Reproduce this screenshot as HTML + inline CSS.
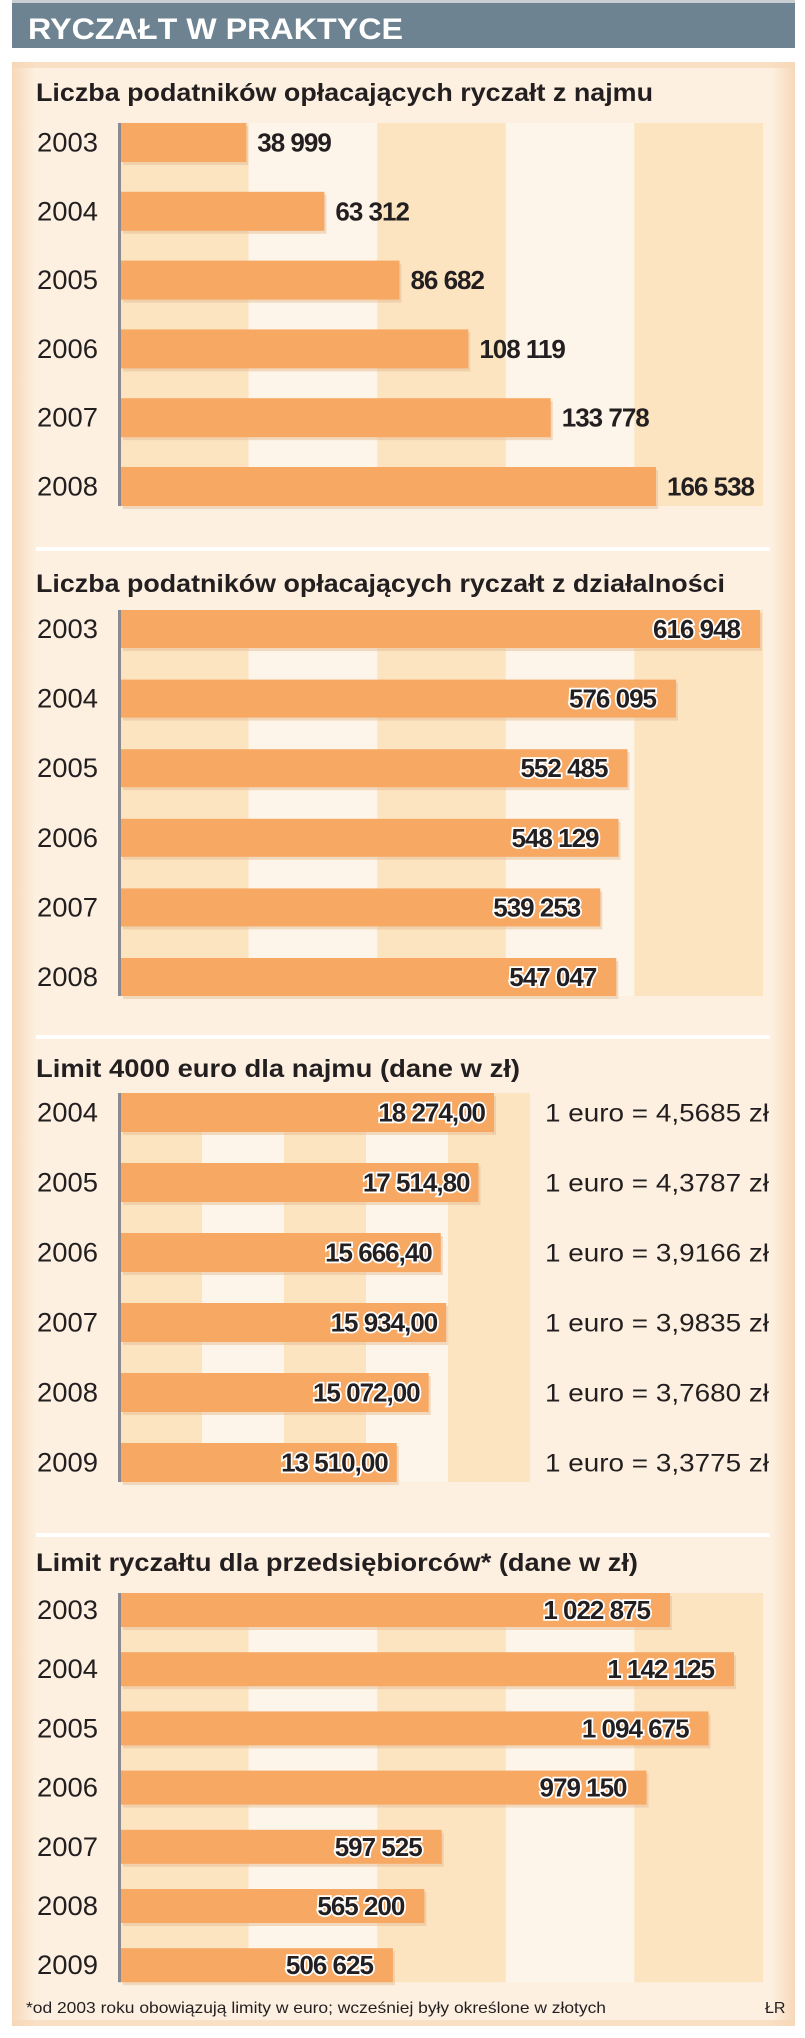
<!DOCTYPE html>
<html><head><meta charset="utf-8">
<style>
html,body{margin:0;padding:0;background:#fff;}
svg{display:block;}
text{font-family:"Liberation Sans Narrow","Liberation Sans",sans-serif;}
</style></head>
<body>
<svg id="chart" width="805" height="2038" viewBox="0 0 805 2038" xmlns="http://www.w3.org/2000/svg">
  <defs>
    <linearGradient id="panelGrad" x1="0" y1="0" x2="1" y2="0">
      <stop offset="0" stop-color="#f7d7b8"/><stop offset="0.03" stop-color="#fdf0e0"/>
      <stop offset="0.97" stop-color="#fdf0e0"/><stop offset="1" stop-color="#f7d7b8"/>
    </linearGradient>
  </defs>
  <rect x="12" y="0" width="783" height="4" fill="#c9ced2"/>
  <rect x="12" y="3" width="783" height="45" fill="#6e8391"/>
  <text x="28" y="39" font-size="30" font-weight="bold" fill="#fff" textLength="375" lengthAdjust="spacingAndGlyphs">RYCZAŁT W PRAKTYCE</text>
  <rect x="12" y="62" width="783" height="1964" fill="url(#panelGrad)"/>
  <rect x="12" y="62" width="783" height="6" fill="#f7d7b8" opacity="0.7"/>
  <rect x="12" y="2020" width="783" height="6" fill="#f7d7b8" opacity="0.7"/>
  <g id="root"></g>
</svg>
<script>
// ---- Chart 1: najem taxpayers ----
const c1Years = ["2003","2004","2005","2006","2007","2008"];
const c1Values = [38999, 63312, 86682, 108119, 133778, 166538];
const c1Labels = ["38 999","63 312","86 682","108 119","133 778","166 538"];
// ---- Chart 2: działalność taxpayers ----
const c2Years = ["2003","2004","2005","2006","2007","2008"];
const c2Values = [616948, 576095, 552485, 548129, 539253, 547047];
const c2Labels = ["616 948","576 095","552 485","548 129","539 253","547 047"];
// ---- Chart 3: limit 4000 euro ----
const c3Years = ["2004","2005","2006","2007","2008","2009"];
const c3Values = [18274.00, 17514.80, 15666.40, 15934.00, 15072.00, 13510.00];
const c3Labels = ["18 274,00","17 514,80","15 666,40","15 934,00","15 072,00","13 510,00"];
const c3Rates = ["1 euro = 4,5685 zł","1 euro = 4,3787 zł","1 euro = 3,9166 zł","1 euro = 3,9835 zł","1 euro = 3,7680 zł","1 euro = 3,3775 zł"];
// ---- Chart 4: limit dla przedsiębiorców ----
const c4Years = ["2003","2004","2005","2006","2007","2008","2009"];
const c4Values = [1022875, 1142125, 1094675, 979150, 597525, 565200, 506625];
const c4Labels = ["1 022 875","1 142 125","1 094 675","979 150","597 525","565 200","506 625"];

const NS = "http://www.w3.org/2000/svg";
const root = document.getElementById("root");
function mk(tag, attrs, parent){
  const e = document.createElementNS(NS, tag);
  for (const k in attrs) e.setAttribute(k, attrs[k]);
  (parent||root).appendChild(e);
  return e;
}
const AX = 121;
function linScale(dmin, dmax, rmin, rmax){ return v => rmin + (v-dmin)/(dmax-dmin)*(rmax-rmin); }

function drawChart(cfg){
  const g = mk("g", {});
  
  
  const t = mk("text", {x:36, y:cfg.titleY, "font-size":25, "font-weight":"bold", fill:"#231f20", textLength:cfg.titleW, lengthAdjust:"spacingAndGlyphs"}, g);
  t.textContent = cfg.title;
  
  
  const top = cfg.y0, bottom = cfg.y0 + (cfg.years.length-1)*cfg.step + cfg.h;
  // stripes
  for (let i=0;i<cfg.stripeN;i++){
    const s = mk("rect", {x:AX-1+i*cfg.stripeW, y:top, width:cfg.stripeW, height:bottom-top, fill: i%2===0 ? "#fce4c1" : "#fdf5ea"}, g);
    
    
  }
  const xs = cfg.scale;
  cfg.years.forEach((yr,i)=>{
    const y = cfg.y0 + i*cfg.step;
    const xe = xs(cfg.values[i]);
    const sh = mk("rect", {x:AX+2, y:y+3, width:xe-AX, height:cfg.h, fill:"#e3b98f", opacity:0.45}, g);
    
    
    const b = mk("rect", {x:AX, y:y, width:xe-AX, height:cfg.h, fill:"#f7a964"}, g);
    
    
    const cy = y + cfg.h/2 + 9;
    const yl = mk("text", {x:37, y:cy, "font-size":27, fill:"#231f20", textLength:61, lengthAdjust:"spacingAndGlyphs"}, g);
    yl.textContent = yr;
    
    
    let vl;
    if (cfg.inside){
      vl = mk("text", {x:xe-cfg.pad, y:cy, "font-size":26, "font-weight":"bold", fill:"#231f20", "text-anchor":"end", stroke:"#fff", "stroke-width":3.5, "paint-order":"stroke", "letter-spacing":"-1"}, g);
    } else {
      vl = mk("text", {x:xe+11, y:cy, "font-size":26, "font-weight":"bold", fill:"#231f20", "letter-spacing":"-1"}, g);
    }
    vl.textContent = cfg.labels[i];
    
    
    if (cfg.rates){
      const r = mk("text", {x:769, y:cy, "font-size":25, fill:"#231f20", "text-anchor":"end", textLength:224, lengthAdjust:"spacingAndGlyphs"}, g);
      r.textContent = cfg.rates[i];
      
      
    }
  });
  const ax = mk("rect", {x:AX-3, y:top, width:3, height:bottom-top, fill:"#8b8a90"}, g);
  
  
  if (cfg.sepY){
    const sp = mk("rect", {x:36, y:cfg.sepY, width:734, height:4, fill:"#ffffff"}, g);
    
    
  }
}

drawChart({name:"chart-najem-taxpayers", title:"Liczba podatników opłacających ryczałt z najmu", titleY:101, titleW:617,
  years:c1Years, values:c1Values, labels:c1Labels, y0:123, step:68.8, h:39, stripeN:5, stripeW:128.6,
  scale:linScale(0,166538,AX,656), inside:false, sepY:547});
drawChart({name:"chart-dzialalnosc-taxpayers", title:"Liczba podatników opłacających ryczałt z działalności", titleY:592, titleW:689,
  years:c2Years, values:c2Values, labels:c2Labels, y0:610, step:69.6, h:38, stripeN:5, stripeW:128.6,
  scale:linScale(306150,616948,AX,760), inside:true, pad:20, sepY:1035});
drawChart({name:"chart-limit-najem", title:"Limit 4000 euro dla najmu (dane w zł)", titleY:1077, titleW:484,
  years:c3Years, values:c3Values, labels:c3Labels, rates:c3Rates, y0:1093, step:70, h:39, stripeN:5, stripeW:82,
  scale:linScale(0,18274,AX,494), inside:true, pad:9, sepY:1533});
drawChart({name:"chart-limit-przedsiebiorcy", title:"Limit ryczałtu dla przedsiębiorców* (dane w zł)", titleY:1571, titleW:602,
  years:c4Years, values:c4Values, labels:c4Labels, y0:1593, step:59.2, h:34, stripeN:5, stripeW:128.6,
  scale:linScale(0,1142125,AX,734), inside:true, pad:20, sepY:0});

const fn = mk("text", {x:26, y:2013, "font-size":16, fill:"#231f20", textLength:580, lengthAdjust:"spacingAndGlyphs"});
fn.textContent = "*od 2003 roku obowiązują limity w euro; wcześniej były określone w złotych";


const src = mk("text", {x:765, y:2013, "font-size":16, fill:"#231f20"});
src.textContent = "ŁR";


</script>
</body></html>
